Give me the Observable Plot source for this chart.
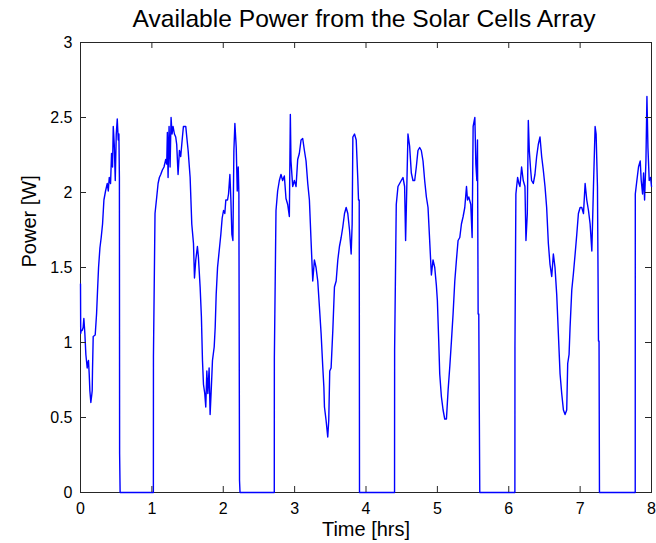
<!DOCTYPE html>
<html><head><meta charset="utf-8">
<script src="https://cdn.jsdelivr.net/npm/d3@7"></script>
<script src="https://cdn.jsdelivr.net/npm/@observablehq/plot@0.6"></script>
<style>
html,body{margin:0;padding:0;background:#fff;}
#wrap{position:relative;width:656px;height:543px;font-family:"Liberation Sans",Arial,sans-serif;overflow:hidden;}
#title{position:absolute;left:0;top:0;width:656px;height:36px;}
#title span{position:absolute;left:364px;top:7px;transform:translateX(-50%);font-size:24.6px;line-height:24px;white-space:nowrap;color:#000;}
#chart{position:absolute;left:0;top:36px;}
</style></head><body>
<div id="wrap"><div id="title"><span id="tt"></span></div><div id="chart"></div></div>
<script>
const titleText = "Available Power from the Solar Cells Array";
const xLabel = "Time [hrs]";
const yLabel = "Power [W]";
const xTicks = [0,1,2,3,4,5,6,7,8];
const xTickLabels = ["0","1","2","3","4","5","6","7","8"];
const yTicks = [0,0.5,1,1.5,2,2.5,3];
const yTickLabels = ["0","0.5","1","1.5","2","2.5","3"];

// [hours, watts]
const day1 = [[0.000,1.39],[0.003,1.06],[0.010,1.08],[0.023,1.08],[0.037,1.10],[0.047,1.16],[0.061,1.06],[0.075,0.92],[0.094,0.83],[0.105,0.87],[0.112,0.88],[0.122,0.79],[0.131,0.68],[0.145,0.60],[0.160,0.66],[0.164,0.68],[0.168,0.81],[0.178,1.04],[0.206,1.05],[0.225,1.19],[0.239,1.35],[0.253,1.50],[0.272,1.63],[0.290,1.70],[0.309,1.79],[0.328,1.95],[0.351,2.01],[0.375,2.06],[0.389,2.01],[0.403,2.10],[0.421,2.06],[0.435,2.26],[0.449,2.17],[0.459,2.44],[0.473,2.32],[0.487,2.08],[0.501,2.39],[0.515,2.49],[0.529,2.35],[0.538,2.39],[0.545,2.10],[0.548,0.26],[0.555,0.00]];
const day2 = [[1.021,0],[1.022,0.91],[1.044,1.86],[1.068,1.97],[1.087,2.06],[1.105,2.10],[1.124,2.12],[1.147,2.15],[1.170,2.17],[1.194,2.22],[1.208,2.19],[1.217,2.40],[1.227,2.10],[1.241,2.44],[1.255,2.17],[1.269,2.50],[1.283,2.39],[1.297,2.44],[1.316,2.39],[1.334,2.37],[1.348,2.32],[1.367,2.12],[1.386,2.28],[1.404,2.24],[1.428,2.37],[1.442,2.44],[1.475,2.44],[1.489,2.37],[1.508,2.28],[1.536,2.10],[1.559,1.79],[1.583,1.66],[1.597,1.43],[1.615,1.55],[1.638,1.64],[1.652,1.57],[1.676,1.37],[1.694,1.17],[1.709,0.88],[1.723,0.72],[1.741,0.66],[1.755,0.57],[1.770,0.81],[1.784,0.66],[1.802,0.83],[1.816,0.52],[1.835,0.72],[1.849,0.88],[1.873,0.97],[1.887,1.10],[1.901,1.32],[1.920,1.50],[1.943,1.61],[1.966,1.72],[1.985,1.83],[2.004,1.88],[2.022,1.86],[2.036,1.95],[2.060,1.95],[2.074,1.99],[2.093,2.12],[2.107,1.95],[2.121,1.72],[2.135,1.68],[2.149,2.28],[2.163,2.46],[2.182,2.30],[2.196,2.01],[2.210,2.17],[2.219,1.99],[2.228,0.08],[2.235,0]];
const day3 = [[2.715,0],[2.716,0.90],[2.739,1.88],[2.762,2.01],[2.786,2.08],[2.809,2.12],[2.832,2.08],[2.856,2.11],[2.879,1.96],[2.903,1.92],[2.926,1.84],[2.940,2.52],[2.949,2.21],[2.973,2.04],[2.996,2.08],[3.020,2.04],[3.043,2.22],[3.066,2.26],[3.090,2.35],[3.113,2.36],[3.137,2.28],[3.160,2.21],[3.184,2.06],[3.207,1.95],[3.230,1.68],[3.254,1.41],[3.277,1.55],[3.300,1.50],[3.324,1.41],[3.347,1.24],[3.371,1.06],[3.394,0.84],[3.410,0.70],[3.418,0.57],[3.441,0.48],[3.464,0.37],[3.478,0.48],[3.492,0.81],[3.511,0.83],[3.535,1.08],[3.558,1.37],[3.582,1.41],[3.605,1.55],[3.628,1.64],[3.652,1.70],[3.675,1.77],[3.699,1.86],[3.722,1.90],[3.745,1.86],[3.769,1.75],[3.792,1.59],[3.806,1.79],[3.816,2.37],[3.839,2.39],[3.863,2.35],[3.886,2.08],[3.895,1.95],[3.905,1.95],[3.909,0]];
const day4 = [[4.400,0],[4.401,0.95],[4.424,1.92],[4.448,2.04],[4.471,2.06],[4.494,2.08],[4.518,2.10],[4.541,2.04],[4.555,1.68],[4.570,2.00],[4.588,2.39],[4.611,2.31],[4.635,2.13],[4.658,2.08],[4.682,2.08],[4.705,2.17],[4.728,2.28],[4.752,2.30],[4.775,2.28],[4.799,2.21],[4.822,2.08],[4.846,1.97],[4.869,1.90],[4.892,1.68],[4.916,1.45],[4.939,1.55],[4.963,1.50],[4.986,1.38],[5.000,1.28],[5.019,1.01],[5.033,0.79],[5.056,0.64],[5.080,0.55],[5.103,0.49],[5.127,0.49],[5.150,0.68],[5.174,0.84],[5.197,1.01],[5.220,1.19],[5.244,1.41],[5.267,1.55],[5.290,1.68],[5.314,1.70],[5.337,1.79],[5.361,1.84],[5.384,1.90],[5.408,2.04],[5.422,1.95],[5.440,1.97],[5.468,1.92],[5.487,1.70],[5.501,2.44],[5.525,2.50],[5.539,2.19],[5.553,2.08],[5.562,2.35],[5.571,1.19],[5.580,1.19],[5.594,0]];
const day5 = [[6.086,0],[6.087,0.97],[6.100,1.99],[6.124,2.10],[6.142,2.06],[6.157,2.04],[6.180,2.17],[6.203,2.08],[6.227,2.04],[6.241,1.68],[6.260,1.86],[6.274,2.48],[6.288,2.28],[6.307,2.15],[6.320,2.08],[6.344,2.06],[6.367,2.12],[6.391,2.24],[6.414,2.32],[6.438,2.37],[6.461,2.24],[6.484,2.15],[6.508,2.04],[6.531,1.90],[6.555,1.66],[6.578,1.52],[6.602,1.44],[6.625,1.59],[6.648,1.50],[6.672,1.32],[6.695,1.06],[6.719,0.79],[6.742,0.66],[6.766,0.55],[6.789,0.52],[6.812,0.55],[6.826,0.86],[6.845,0.92],[6.859,1.10],[6.883,1.35],[6.906,1.46],[6.930,1.59],[6.953,1.72],[6.976,1.86],[7.000,1.90],[7.023,1.90],[7.047,1.86],[7.070,2.06],[7.093,1.95],[7.117,1.88],[7.140,1.79],[7.164,1.61],[7.187,2.04],[7.210,2.44],[7.224,2.39],[7.243,2.04],[7.257,1.01],[7.265,1.01],[7.271,0]];
const day6 = [[7.772,0],[7.773,1.99],[7.795,2.08],[7.818,2.17],[7.842,2.21],[7.856,2.08],[7.875,1.99],[7.889,2.13],[7.903,1.95],[7.922,2.21],[7.936,2.64],[7.950,2.30],[7.968,2.08],[7.987,2.10],[8.000,2.04]];

const data = [day1, day2, day3, day4, day5, day6].flat().map(([t, p]) => ({t, p}));

document.getElementById("tt").textContent = titleText;

const W = 656, H = 507, mt = 6, mb = 51, ml = 80, mr = 5;
const plotW = W - ml - mr, plotH = H - mt - mb;
const tk = 6;
const axisColor = "#262626";

const chart = Plot.plot({
  width: W, height: H,
  marginTop: mt, marginBottom: mb, marginLeft: ml, marginRight: mr,
  style: {fontFamily: '"Liberation Sans", Arial, sans-serif', fontSize: "16px", color: "#000", background: "#fff", overflow: "visible"},
  x: {domain: [0, 8]},
  y: {domain: [0, 3]},
  marks: [
    Plot.frame({stroke: axisColor}),
    Plot.line(data, {x: "t", y: "p", stroke: "#0000ff", strokeWidth: 1.4}),
    Plot.tickX(xTicks, {x: d => d, insetTop: plotH - tk, stroke: axisColor}),
    Plot.tickX(xTicks, {x: d => d, insetBottom: plotH - tk, stroke: axisColor}),
    Plot.tickY(yTicks, {y: d => d, insetRight: plotW - tk, stroke: axisColor}),
    Plot.tickY(yTicks, {y: d => d, insetLeft: plotW - tk, stroke: axisColor}),
    Plot.axisX(xTicks, {tickSize: 0, tickPadding: 10, label: null, fill: "#000", tickFormat: d => xTickLabels[xTicks.indexOf(d)]}),
    Plot.axisY(yTicks, {tickSize: 0, tickPadding: 8, label: null, fill: "#000", tickFormat: d => yTickLabels[yTicks.indexOf(d)]}),
    Plot.text([xLabel], {text: d => d, frameAnchor: "bottom", dy: 37.5, fontSize: 20, lineAnchor: "middle", fill: "#000"}),
    Plot.text([yLabel], {text: d => d, frameAnchor: "left", dx: -50.8, rotate: -90, fontSize: 20, lineAnchor: "middle", fill: "#000"})
  ]
});
document.getElementById("chart").appendChild(chart);
</script>
</body></html>
